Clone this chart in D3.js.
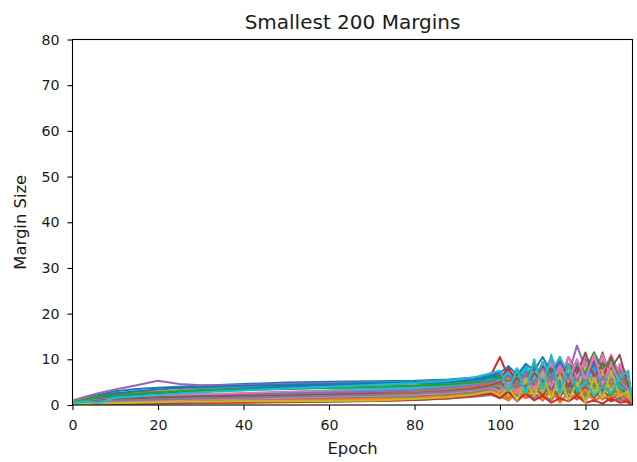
<!DOCTYPE html>
<html>
<head>
<meta charset="utf-8">
<script src="https://cdn.jsdelivr.net/npm/d3@7"></script>
<style>
  body { margin: 0; background: #fff; }
  svg { display: block; font-family: "DejaVu Sans", sans-serif; }
</style>
</head>
<body>
<svg id="chart" width="637" height="462"></svg>
<script>
const epochs = [0,3,6,10,15,20,25,30,40,50,60,70,80,88,94,98,100,102,104,106,108,110,112,114,116,118,120,122,124,126,128,130,131];

// Margin series (a representative subset of the 200 smallest margins)
const s00 = [0.8,1.5,2.2,3.0,3.5,3.8,4.0,4.2,4.6,4.9,5.1,5.2,5.3,5.6,6.0,6.5,7.2,5.0,8.0,4.5,7.5,5.0,9.0,4.0,8.5,5.5,10.0,6.0,8.0,4.0,7.0,3.0,0.5];
const s01 = [0.5,1.2,1.8,2.5,2.7,2.6,2.5,2.4,2.2,2.3,2.5,2.8,3.2,3.8,4.5,5.0,4.0,6.5,3.0,5.5,2.5,7.0,3.5,6.0,2.0,5.0,1.5,6.5,3.0,2.0,5.0,1.5,0.3];
const s02 = [0.3,1.0,2.0,2.6,2.8,2.9,3.0,3.1,3.3,3.5,3.7,3.9,4.2,4.8,5.3,6.0,5.0,8.0,4.0,7.5,5.0,6.0,8.5,3.0,7.0,9.5,4.0,8.0,5.0,9.0,3.0,4.0,0.5];
const s03 = [0.4,0.8,1.2,1.6,1.8,1.7,1.5,1.4,1.3,1.5,2.0,2.6,3.4,4.2,5.6,6.8,10.5,6.0,7.0,5.0,9.5,4.0,7.5,5.0,8.0,6.0,9.0,4.5,7.0,5.5,8.0,3.0,0.5];
const s04 = [1.0,1.8,2.6,3.4,4.3,5.3,4.6,4.3,4.4,4.6,4.8,4.9,5.0,5.4,6.0,6.8,6.0,7.5,5.0,8.5,6.0,9.0,7.0,10.5,6.5,13.0,8.0,11.5,6.5,10.0,7.0,5.0,1.0];
const s05 = [0.2,0.6,1.0,1.4,1.6,1.8,2.0,2.1,2.3,2.5,2.7,2.9,3.3,4.0,4.8,5.5,6.5,4.5,7.0,5.5,8.5,6.0,9.0,5.0,10.5,7.0,11.0,6.0,11.5,5.5,8.0,6.0,1.0];
const s06 = [0.6,1.0,1.4,1.8,2.0,2.1,2.2,2.4,2.1,1.8,1.6,1.5,1.8,2.6,3.4,4.2,5.0,3.0,6.5,4.0,8.0,3.5,9.5,5.0,7.0,4.5,11.0,6.0,10.5,4.0,9.0,6.5,1.0];
const s07 = [0.2,0.4,0.7,1.0,1.2,1.3,1.4,1.5,1.7,1.9,2.1,2.2,2.4,2.9,3.4,4.0,3.5,5.0,3.0,4.5,2.5,5.5,3.0,6.0,4.0,5.5,3.0,6.0,4.0,5.0,3.5,2.5,0.5];
const s08 = [0.1,0.3,0.5,0.8,1.0,1.2,1.3,1.4,1.3,1.2,1.1,1.2,1.5,2.0,2.6,3.2,2.5,4.5,2.0,5.0,3.0,6.5,2.0,7.0,4.0,8.0,3.0,9.0,5.0,7.5,3.0,4.5,0.5];
const s09 = [0.5,0.9,1.2,1.8,2.3,2.8,3.3,3.6,3.9,4.2,4.6,4.9,5.1,5.4,5.8,6.3,6.0,3.5,7.0,4.0,7.5,3.0,6.5,4.5,8.0,5.0,7.0,3.5,6.0,4.0,5.5,3.0,0.5];
const s10 = [0.3,0.6,0.9,1.1,1.3,1.4,1.5,1.6,1.8,2.0,2.2,2.4,2.7,3.1,3.5,4.0,4.5,3.0,5.0,2.5,4.0,6.0,3.0,5.5,2.0,6.5,3.5,5.0,2.5,6.0,4.0,2.0,0.3];
const s11 = [0.7,1.3,1.9,2.4,2.6,2.9,3.1,3.3,3.5,3.7,3.8,3.9,4.0,4.3,4.7,5.2,5.5,4.0,6.0,3.5,6.5,4.5,5.0,7.0,3.0,6.0,4.0,5.5,2.5,4.5,1.5,3.0,0.4];
const s12 = [0.2,0.4,0.6,0.9,1.1,1.3,1.5,1.7,2.0,2.3,2.5,2.6,2.8,3.0,3.3,3.7,3.0,5.0,2.5,6.0,4.0,7.0,3.5,8.0,4.0,6.0,2.5,7.5,3.5,6.5,2.5,3.5,0.5];
const s13 = [0.1,0.2,0.3,0.4,0.5,0.5,0.6,0.6,0.7,0.8,0.9,1.0,1.2,1.5,2.0,2.6,2.0,1.0,3.0,1.5,2.5,1.0,3.5,0.8,2.5,1.2,3.0,1.0,2.0,0.8,1.5,0.5,0.2];
const s14 = [0.4,0.7,1.0,1.2,1.3,1.4,1.6,1.8,2.2,2.6,3.0,3.3,3.6,4.0,4.4,4.8,5.5,7.0,4.5,8.0,5.0,7.5,10.0,6.0,9.0,5.5,8.5,6.0,9.5,5.0,7.5,4.0,0.8];
const s15 = [0.1,0.2,0.3,0.5,0.6,0.7,0.8,0.9,1.0,1.2,1.4,1.6,1.9,2.4,3.0,3.6,4.0,2.5,5.0,3.0,4.5,2.0,5.5,3.5,6.0,2.5,5.0,3.0,6.0,2.5,4.0,2.0,0.4];
const s16 = [0.3,0.6,0.9,1.3,1.6,1.9,2.1,2.3,2.6,2.9,3.1,3.3,3.6,4.1,4.7,5.4,6.5,4.5,7.5,5.0,8.5,6.0,10.5,7.0,6.0,9.0,5.0,10.0,7.0,11.0,6.5,4.5,1.0];
const s17 = [0.1,0.1,0.2,0.3,0.3,0.4,0.4,0.5,0.6,0.7,0.8,0.9,1.1,1.4,1.8,2.2,1.5,2.5,1.0,3.0,1.5,2.5,1.0,3.5,1.5,2.5,1.0,3.0,1.2,2.5,1.0,1.5,0.2];
const s18 = [0.2,0.3,0.5,0.6,0.7,0.8,0.8,0.9,0.9,1.0,1.0,1.1,1.3,1.6,2.2,2.8,3.5,1.5,5.0,2.0,6.0,1.0,7.0,2.5,5.5,1.5,6.5,2.0,7.5,1.5,6.0,2.5,0.3];
const s19 = [0.2,0.5,0.8,1.2,1.4,1.6,1.8,2.0,2.4,2.8,3.2,3.6,4.0,4.6,5.2,5.8,6.0,7.5,5.5,8.5,6.0,9.0,6.5,10.0,7.0,9.5,6.0,8.0,5.5,7.0,5.0,3.0,0.5];
const s20 = [0.5,1.2,1.9,2.5,3.0,3.4,3.7,3.9,4.2,4.4,4.6,4.8,5.0,5.3,5.8,6.4,7.0,8.5,6.5,9.0,7.5,10.5,7.0,9.5,6.0,8.5,6.0,9.0,5.5,8.0,5.0,3.5,0.5];
const s21 = [0.1,0.2,0.3,0.4,0.5,0.5,0.6,0.7,0.8,1.0,1.1,1.3,1.5,1.9,2.4,3.0,2.5,1.0,3.5,1.5,4.0,1.0,3.0,0.5,2.5,1.5,3.5,0.8,2.0,1.5,3.0,1.5,0.2];
const s22 = [0.6,1.1,1.7,2.2,2.5,2.8,3.0,3.2,3.4,3.6,3.8,4.0,4.2,4.5,4.9,5.3,6.0,5.0,7.0,6.0,8.5,7.0,6.0,8.0,6.5,9.0,7.0,11.5,8.0,10.0,6.0,5.0,1.0];
const s23 = [0.1,0.2,0.3,0.3,0.4,0.4,0.5,0.5,0.5,0.6,0.7,0.9,1.1,1.5,2.0,2.5,1.5,3.0,0.8,2.5,1.0,2.0,0.5,1.5,0.8,2.0,0.5,1.0,0.3,1.5,0.5,0.8,0.2];
const s24 = [0.2,0.5,0.8,1.1,1.3,1.5,1.7,1.9,2.2,2.5,2.7,2.9,3.2,3.7,4.3,5.0,5.0,6.5,4.0,7.0,4.5,8.0,5.0,9.0,5.5,10.0,6.0,10.5,5.0,8.0,5.5,3.5,0.5];
const s25 = [0.3,0.6,1.0,1.3,1.5,1.7,1.8,1.9,2.0,2.1,2.2,2.4,2.6,3.1,3.7,4.4,5.0,3.5,6.0,4.0,7.0,5.0,8.0,6.0,9.0,7.0,11.5,6.0,9.0,8.0,11.0,4.0,0.8];
const s26 = [0.1,0.3,0.5,0.7,0.9,1.0,1.1,1.2,1.4,1.6,1.8,2.0,2.3,2.7,3.2,3.8,3.0,5.0,2.5,6.0,3.5,7.5,4.0,8.5,5.0,10.0,5.5,11.0,4.5,9.0,5.0,3.5,0.5];
const s27 = [0.3,0.5,0.8,1.0,1.1,1.2,1.3,1.4,1.6,1.8,2.0,2.2,2.5,2.9,3.4,4.0,4.5,3.0,5.0,3.5,5.5,4.0,6.5,4.5,6.0,3.5,5.5,4.0,6.0,4.5,5.0,3.0,0.4];
const s28 = [0.1,0.2,0.3,0.4,0.5,0.6,0.7,0.7,0.8,0.8,0.9,1.0,1.3,1.7,2.3,3.0,2.0,4.0,1.0,5.5,2.0,7.0,1.5,6.5,1.0,5.0,0.5,6.0,1.5,7.5,2.0,3.0,0.2];
const s29 = [0.5,0.8,0.4,1.6,1.9,2.2,2.5,2.8,3.2,3.6,4.0,4.4,4.8,5.3,6.0,7.0,7.5,3.0,8.0,2.5,10.0,3.5,11.0,2.5,9.0,3.0,5.0,2.0,4.0,2.5,6.0,7.5,0.5];
const s30 = [0.4,0.9,1.5,2.0,2.3,2.6,2.9,3.2,3.6,4.0,4.3,4.5,4.7,5.0,5.4,5.9,6.5,5.0,7.5,5.5,6.5,8.0,6.0,9.5,6.5,8.0,5.0,7.0,4.5,6.0,4.0,2.5,0.4];
const s31 = [0.2,0.4,0.7,1.0,1.2,1.4,1.6,1.8,1.9,2.0,2.2,2.5,2.9,3.4,4.0,4.6,4.0,6.0,3.5,6.5,4.0,7.5,4.5,8.0,3.5,7.0,3.0,6.5,2.5,5.5,2.0,1.5,0.3];
const s32 = [0.1,0.3,0.5,0.8,1.0,1.1,1.2,1.3,1.5,1.7,1.9,2.1,2.4,2.8,3.3,3.9,3.5,2.0,4.5,2.5,5.0,3.0,6.0,3.5,5.5,2.5,6.5,3.0,5.0,2.0,4.5,2.5,0.3];
const s33 = [0.3,0.5,0.8,1.0,1.1,1.2,1.3,1.4,1.6,1.9,2.3,2.8,3.3,3.9,4.6,5.4,6.0,8.0,5.0,7.5,4.5,8.5,5.5,7.0,4.0,8.5,5.0,9.5,6.0,10.5,5.0,3.0,0.6];
const s34 = [0.2,0.3,0.4,0.6,0.7,0.8,0.9,1.0,1.1,1.3,1.5,1.7,2.0,2.4,2.9,3.4,3.0,4.5,2.0,5.5,2.5,6.0,3.0,7.0,3.5,6.5,2.5,7.5,3.0,6.0,2.5,2.0,0.3];
const s35 = [0.1,0.2,0.2,0.3,0.4,0.4,0.5,0.6,0.7,0.8,0.9,1.1,1.4,1.8,2.3,2.9,2.5,1.2,3.5,1.5,4.0,2.0,4.5,1.5,5.0,2.0,4.0,1.5,3.5,1.0,3.0,1.0,0.2];
const s36 = [0.5,0.8,1.1,1.4,1.6,1.8,2.0,2.2,2.5,2.8,3.0,3.2,3.5,4.0,4.6,5.2,6.0,4.0,7.0,4.5,8.0,5.0,9.0,6.0,10.5,6.0,9.5,5.0,11.0,6.0,8.5,5.0,0.8];
const s37 = [0.1,0.2,0.3,0.4,0.5,0.6,0.7,0.8,1.0,1.1,1.3,1.5,1.8,2.2,2.7,3.2,2.5,3.5,2.0,4.0,2.5,4.5,2.0,5.0,3.0,4.0,2.0,4.5,2.5,4.0,2.0,1.5,0.2];
const s38 = [0.3,0.5,0.7,0.9,1.0,1.1,1.2,1.3,1.5,1.7,1.9,2.0,2.3,2.7,3.3,4.0,4.5,2.0,6.0,2.5,7.0,3.0,8.0,2.0,7.5,3.5,8.5,2.5,7.0,3.0,6.5,2.0,0.3];
const s39 = [0.2,0.4,0.6,0.9,1.1,1.3,1.5,1.7,2.1,2.5,2.8,3.1,3.5,4.1,4.8,5.6,5.5,7.0,4.5,8.0,5.0,9.5,5.5,10.5,6.0,9.0,5.0,8.5,4.5,7.5,4.0,3.0,0.4];
// drawing order (later = on top); colour follows position in the matplotlib cycle
const seriesList = [s00,s01,s02,s03,s04,s05,s06,s07,s08,s09,s10,s11,s12,s13,s14,s15,s16,s17,s18,s19,
                    s30,s31,s32,s33,s34,s35,s36,s37,s38,s39,s20,s21,s22,s23,s24,s25,s26,s27,s28,s29];

const xTicks = [0,20,40,60,80,100,120];
const yTicks = [0,10,20,30,40,50,60,70,80];
const palette = ["#1f77b4","#ff7f0e","#2ca02c","#d62728","#9467bd","#8c564b","#e377c2","#7f7f7f","#bcbd22","#17becf"];

const svg = d3.select("#chart");
const L = 72.5, R = 632.5, T = 39.5, B = 405;
const x = d3.scaleLinear().domain([0, 131]).range([L, R]);
const y = d3.scaleLinear().domain([0, 80]).range([B, T]);

svg.append("defs").append("clipPath").attr("id", "clip")
  .append("rect").attr("x", L).attr("y", T).attr("width", R - L).attr("height", B - T);

const line = d3.line().x((d, i) => x(epochs[i])).y(d => y(d));
svg.append("g").attr("clip-path", "url(#clip)")
  .selectAll("path").data(seriesList).join("path")
  .attr("d", d => line(d))
  .attr("fill", "none")
  .attr("stroke", (d, i) => palette[i % 10])
  .attr("stroke-width", 2)
  .attr("stroke-linejoin", "round")
  .attr("stroke-linecap", "square");

// Axes
const xAxis = d3.axisBottom(x).tickValues(xTicks).tickSize(5).tickPadding(10).tickFormat(d3.format("d"));
const yAxis = d3.axisLeft(y).tickValues(yTicks).tickSize(5).tickPadding(8).tickFormat(d3.format("d"));
const gx = svg.append("g").attr("transform", `translate(0,${B})`).call(xAxis);
const gy = svg.append("g").attr("transform", `translate(${L},0)`).call(yAxis);
[gx, gy].forEach(g => {
  g.select(".domain").remove();
  g.selectAll("line").attr("stroke", "#000").attr("stroke-width", 1.1);
  g.selectAll("text").attr("fill", "#1a1a1a").style("font-size", "14.2px").style("font-family", "DejaVu Sans");
});

// Frame
svg.append("rect").attr("x", L).attr("y", T).attr("width", R - L).attr("height", B - T)
  .attr("fill", "none").attr("stroke", "#000").attr("stroke-width", 1.1);

// Labels
svg.append("text").attr("x", (L + R) / 2).attr("y", 29).attr("text-anchor", "middle")
  .style("font-size", "20px").attr("fill", "#1a1a1a").text("Smallest 200 Margins");
svg.append("text").attr("x", (L + R) / 2).attr("y", 454).attr("text-anchor", "middle")
  .style("font-size", "16.4px").attr("fill", "#1a1a1a").text("Epoch");
svg.append("text").attr("transform", `translate(26,${(T + B) / 2}) rotate(-90)`).attr("text-anchor", "middle")
  .style("font-size", "16.4px").attr("fill", "#1a1a1a").text("Margin Size");
</script>
</body>
</html>
